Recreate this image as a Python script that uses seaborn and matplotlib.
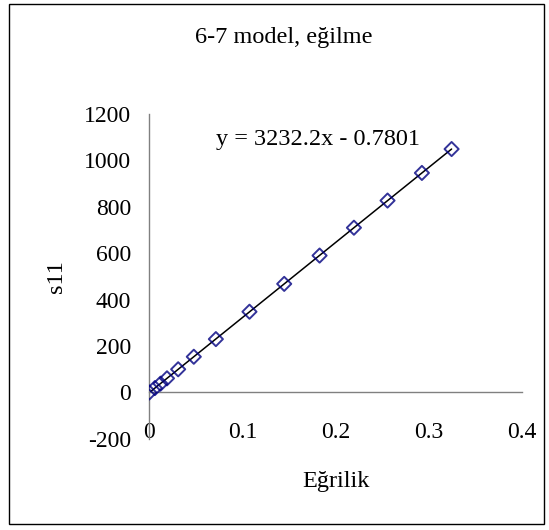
import numpy as np
import pandas as pd
import matplotlib
matplotlib.use("Agg")
import matplotlib.pyplot as plt
import seaborn as sns
from matplotlib.patches import Rectangle

# ---- data ----
egrilik = [0.0, 0.006, 0.012, 0.019, 0.031, 0.0478, 0.0715, 0.1076, 0.1449,
           0.1829, 0.2198, 0.2559, 0.2928, 0.3247]
s11 = [0, 19, 38, 61, 100, 154, 230, 348, 468, 590, 710, 827, 946, 1049]
x_ticks = [0, 0.1, 0.2, 0.3, 0.4]
x_tick_labels = ["0", "0.1", "0.2", "0.3", "0.4"]
y_ticks = [-200, 0, 200, 400, 600, 800, 1000, 1200]
title = "6-7 model, eğilme"
x_label = "Eğrilik"
y_label = "s11"
equation = "y = 3232.2x - 0.7801"

df = pd.DataFrame({"Eğrilik": egrilik, "s11": s11})

sns.set_style("white")
plt.rcParams["font.family"] = ["Liberation Serif", "DejaVu Serif"]
plt.rcParams["axes.unicode_minus"] = False
plt.rcParams["text.color"] = "black"
plt.rcParams["axes.labelcolor"] = "black"

W, H = 549, 530
fig = plt.figure(figsize=(W / 100, H / 100), dpi=100)
ax = fig.add_axes([149.3 / W, 1 - 438.9 / H, (521.7 - 149.3) / W, (438.9 - 114) / H])
ax.set_facecolor("none")

sns.regplot(data=df, x="Eğrilik", y="s11", ax=ax, ci=None, marker="D",
            scatter_kws=dict(s=52, facecolors="none", edgecolors="#000080",
                             linewidths=1.4, zorder=3),
            line_kws=dict(color="black", lw=1.1, zorder=2))

ax.set_xlim(0, 0.4)
ax.set_ylim(-200, 1200)
ax.set_xticks(x_ticks)
ax.set_xticklabels(x_tick_labels)
ax.set_yticks(y_ticks)

for side in ["top", "right"]:
    ax.spines[side].set_visible(False)
ax.spines["bottom"].set_position(("data", 0))
for side in ["bottom", "left"]:
    ax.spines[side].set_color("#808080")
    ax.spines[side].set_linewidth(1.0)

ax.tick_params(axis="x", direction="out", length=5, width=1, color="#808080",
               pad=16, labelsize=17, labelcolor="black")
ax.tick_params(axis="y", direction="out", length=5, width=1, color="#808080",
               pad=8, labelsize=17, labelcolor="black")
ax.grid(False)

ax.set_xlabel(x_label, fontsize=17.5)
ax.xaxis.label.set_verticalalignment("center")
ax.xaxis.set_label_coords(0.5, (1 - 482 / H - (1 - 438.9 / H)) / ((438.9 - 114) / H))
ax.set_ylabel(y_label, fontsize=17.5)
ax.yaxis.label.set_verticalalignment("center")
ax.yaxis.set_label_coords((56 - 149.3) / (521.7 - 149.3), 0.5)

fig.text(284 / W, 1 - 37 / H, title, ha="center", va="center", fontsize=17.5)
fig.text(318 / W, 1 - 139 / H, equation, ha="center", va="center", fontsize=17.5)

fig.patches.append(Rectangle((9 / W, 1 - 524 / H), (544 - 9) / W, (524 - 4) / H,
                             transform=fig.transFigure, fill=False,
                             edgecolor="black", linewidth=1.0))

fig.savefig("out.png", dpi=100)
